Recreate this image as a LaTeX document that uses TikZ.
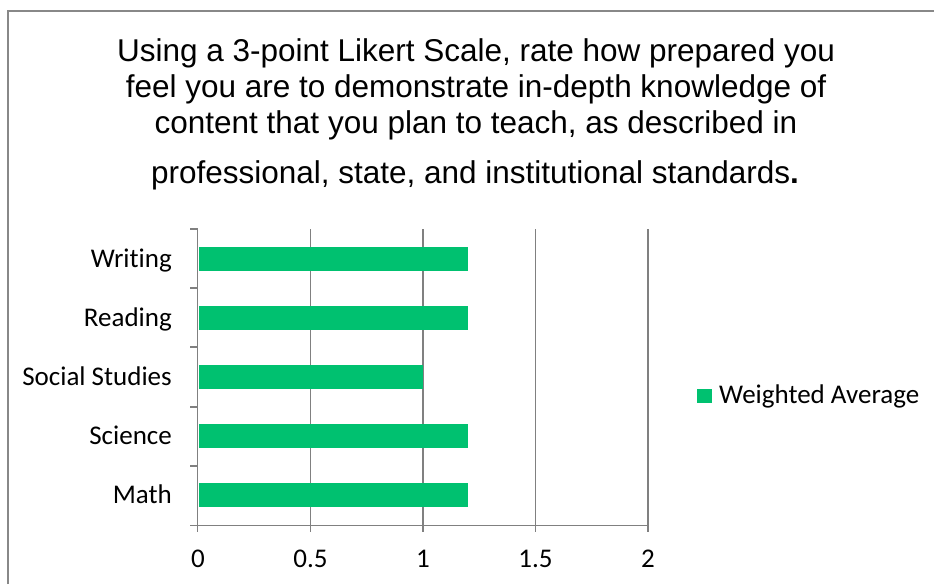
\documentclass[tikz,border=0pt]{standalone}
\usepackage{fontspec}
\setmainfont{Liberation Sans}
\newfontfamily\calib[Ligatures=NoCommon]{Carlito}
\definecolor{bargreen}{RGB}{0,193,112}
\definecolor{gridgray}{RGB}{128,128,128}
\definecolor{framegray}{RGB}{136,136,136}
\begin{document}
\begin{tikzpicture}[x=1pt,y=-1pt,
  frameline/.style={draw=framegray,line width=2pt},
  gridline/.style={draw=gridgray,line width=1.2pt},
  axisline/.style={draw=gridgray,line width=1.2pt},
  bar/.style={fill=bargreen,draw=none},
  titleline/.style={font=\fontsize{31.5}{36}\selectfont,anchor=base,inner sep=0pt},
  catlabel/.style={font=\calib\fontsize{27}{30}\selectfont,anchor=base east,inner sep=0pt},
  vallabel/.style={font=\calib\fontsize{27}{30}\selectfont,anchor=base,inner sep=0pt},
  legendtext/.style={font=\calib\fontsize{27}{30}\selectfont,anchor=base west,inner sep=0pt}]
\useasboundingbox (0,0) rectangle (934,584);
\fill[white] (0,0) rectangle (934,584);
\draw[frameline] (7.5,584) -- (7.5,10.5) -- (934,10.5);
% title
\node[titleline] (t1) at (476,61) {Using a 3-point Likert Scale, rate how prepared you};
\node[titleline] (t2) at (476,97) {feel you are to demonstrate in-depth knowledge of};
\node[titleline] (t3) at (476,133) {content that you plan to teach, as described in};
\node[titleline] (t4) at (475,183) {professional, state, and institutional standards\textbf{.}};
% gridlines
\foreach \gx in {310.5,423,535.5,648} \draw[gridline] (\gx,229) -- (\gx,532);
% axes
\draw[axisline] (197.5,229) -- (197.5,532);
\draw[axisline] (190,525.5) -- (648,525.5);
\foreach \ty in {229,288,347,407,466} \draw[axisline] (190,\ty) -- (197.5,\ty);
% bars and labels
\foreach \name/\lab/\cy/\v in {w/Writing/259/1.2, r/Reading/318/1.2, s/Social Studies/377/1.0, c/Science/436/1.2, m/Math/495/1.2}{
  \node[bar,minimum height=24pt,minimum width={225*\v*1pt-1pt},inner sep=0pt,anchor=west] (bar\name) at (198.5,\cy) {};
  \node[catlabel] (lab\name) at (172,\cy+8.5) {\lab};
}
% value labels
\foreach \gx/\lab [count=\i] in {198/0,310.5/0.5,423/1,535.5/1.5,648/2}
  \node[vallabel] (v\i) at (\gx,567) {\lab};
% legend
\node[bar,minimum size=14.5pt,inner sep=0pt] (legsq) at (704.5,396) {};
\node[legendtext] (legtext) at (719,403) {Weighted Average};
\end{tikzpicture}
\end{document}
